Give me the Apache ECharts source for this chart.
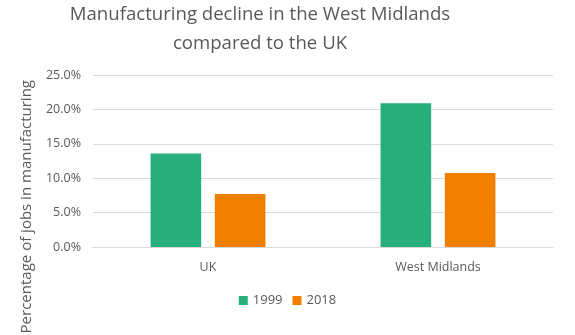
<!DOCTYPE html>
<html><head><meta charset="utf-8">
<script src="https://cdn.jsdelivr.net/npm/echarts@6/dist/echarts.min.js"></script>
<style>html,body{margin:0;padding:0;background:#fff}#c{width:575px;height:335px}</style>
</head><body><div id="c"></div>
<script>
const titleLines = ["Manufacturing decline in the West Midlands", "compared to the UK"];
const categories = ["UK", "West Midlands"];
const seriesNames = ["1999", "2018"];
const values1999 = [0.136, 0.209];
const values2018 = [0.077, 0.1075];
const yTicks = { min: 0, max: 0.25, interval: 0.05 };
const yAxisTitle = "Percentage of jobs in manufacturing";

const txt = '#595959';
const font = 'Open Sans';
const chart = echarts.init(document.getElementById('c'), null, {renderer: 'canvas'});
chart.setOption({
  animation: false,
  textStyle: {fontFamily: font},
  graphic: [
    {
      type: 'text', x: 260, y: 0,
      style: {text: titleLines.join('\n'), fill: txt, fontSize: 18.6, lineHeight: 29,
        fontFamily: font, textAlign: 'center', textVerticalAlign: 'top', align: 'center'}
    },
    {
      type: 'text', left: 19, top: 80,
      rotation: Math.PI / 2,
      style: {text: yAxisTitle, fill: txt, fontSize: 15, fontFamily: font}
    }
  ],
  grid: {left: 93, right: 22, top: 75, bottom: 88, containLabel: false},
  legend: {
    data: seriesNames, bottom: 23, left: 'center',
    itemWidth: 9, itemHeight: 9, itemGap: 10,
    icon: 'rect',
    textStyle: {color: txt, fontSize: 13, fontFamily: font}
  },
  xAxis: {
    type: 'category', data: categories,
    axisLine: {lineStyle: {color: '#d9d9d9', width: 1}},
    axisTick: {show: false},
    axisLabel: {color: txt, fontSize: 12.5, margin: 14, fontFamily: font}
  },
  yAxis: {
    type: 'value', min: yTicks.min, max: yTicks.max, interval: yTicks.interval,
    axisLine: {show: false}, axisTick: {show: false},
    splitLine: {lineStyle: {color: '#d9d9d9', width: 1}},
    axisLabel: {color: txt, fontSize: 12.5, margin: 12, fontFamily: font,
      formatter: v => (v * 100).toFixed(1) + '%'}
  },
  series: [
    {name: seriesNames[0], type: 'bar', data: values1999, barWidth: '22%', barGap: '27%', itemStyle: {color: '#27ae7a'}},
    {name: seriesNames[1], type: 'bar', data: values2018, barWidth: '22%', itemStyle: {color: '#f07f00'}}
  ]
});
</script></body></html>
